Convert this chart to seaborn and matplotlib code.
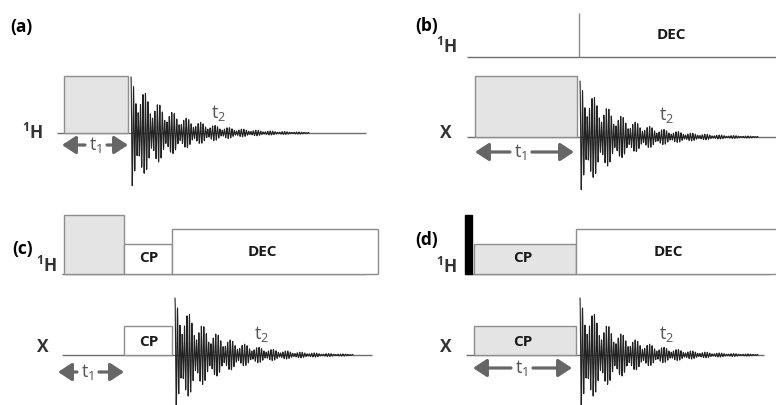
import numpy as np
import matplotlib

matplotlib.use("Agg")

import matplotlib.pyplot as plt
import seaborn as sns

# ============================================================
# DATA
# time axis  : 0 = start of the first pulse of each panel
# level axis : 0 = baseline of the observed (lower) channel
# ============================================================

H1 = r"$\mathbf{^{1}H}$"
XN = r"$\mathbf{X}$"

PANEL_TAGS = ["(a)", "(b)", "(c)", "(d)"]

# channel baselines: (label, level, t_start, t_end)
CHANNELS_A = [(H1, 0, -7, 302)]
CHANNELS_B = [(H1, 80, -8, 305), (XN, 0, -8, 305)]
CHANNELS_C = [(H1, 81, -2, 302), (XN, 0, -2, 308)]
CHANNELS_D = [(H1, 81, -8, 296), (XN, 0, -8, 290)]

# pulse blocks: (level, t_start, t_end, height, fill)
BLOCKS_A = [(0, 0, 64, 57, "grey")]
BLOCKS_B = [(0, 0, 102, 61, "grey")]
BLOCKS_C = [(81, 0, 60, 59, "grey"), (81, 60, 108, 30, "white"),
            (81, 108, 314, 45, "white"), (0, 60, 108, 29, "white")]
BLOCKS_D = [(81, -9, -2, 59, "black"), (81, 0, 102, 30, "grey"),
            (81, 102, 320, 45, "white"), (0, 0, 102, 29, "grey")]

# block texts: (text, t, level)
LABELS_A = []
LABELS_B = [("DEC", 196, 102)]
LABELS_C = [("CP", 85, 97), ("DEC", 198, 103), ("CP", 85, 13)]
LABELS_D = [("CP", 49, 97), ("DEC", 194, 103), ("CP", 49, 13)]

# decoupler switch-on marker in (b): (level, t, height)
MARKERS_B = [(80, 104, 44)]

# FID on the observed channel
FID_START = [67, 105, 111, 106]
FID_AMP   = [56, 56, 57, 57]
FID_LEN   = 178
FID_PERIOD, BEAT_PERIOD, FID_DECAY = 2.4, 14.0, 42.0

# t1 evolution arrows: (tip_left, tip_right), text position, level
T1_SPAN   = [(-2, 64), (0, 99), (-6, 60), (-1, 98)]
T1_TEXT_T = [32, 46, 24, 48]
T1_LEVEL  = [-12, -15, -17, -13]
T2_POS    = [(155, 20), (192, 22), (198, 21), (193, 21)]

# channel-label anchors (right edge t, level) per panel
CH_LABEL_POS = [
    [(-21, 0)],
    [(-18, 90), (-22, 4)],
    [(-7, 89), (-14, 7)],
    [(-17, 88), (-21, 7)],
]
TAG_POS = [(-54, 106), (-60, 111), (-52, 106), (-59, 115)]

# ============================================================
# LAYOUT (figure pixels)
# ============================================================

W, H = 776, 405
PANEL_BOX = [(0, 0, 388, 200), (388, 0, 388, 200),
             (0, 200, 388, 205), (388, 200, 388, 205)]
ORIGIN = [(64, 133), (475, 137), (64, 355), (474, 355)]

FILLS = {"grey": ("#e4e4e4", "#8e8e8e"),
         "white": ("white", "#8e8e8e"),
         "black": ("black", "black")}
LINE_C = "#6e6e6e"
ARROW_C = "#666666"
FONT = "Open Sans"


def fid_trace(start, amp):
    t = np.linspace(0, FID_LEN, 8000)
    osc = np.cos(2 * np.pi * t / FID_PERIOD) \
        + 0.4 * np.cos(2 * np.pi * t * (1 / FID_PERIOD - 1 / BEAT_PERIOD))
    y = amp * np.exp(-t / FID_DECAY) * osc / 1.4
    return start + t, y


def draw_panel(ax, i, channels, blocks, labels, markers=()):
    for (lbl, lev, t0, t1), (lx, ly) in zip(channels, CH_LABEL_POS[i]):
        ax.hlines(lev, t0, t1, color=LINE_C, lw=1.0, zorder=1)
        ax.text(lx, ly, lbl, ha="right", va="center", fontsize=12.5,
                color="#333333")

    for lev, t0, t1, h, fill in blocks:
        fc, ec = FILLS[fill]
        ax.bar(t0, h, width=t1 - t0, bottom=lev, align="edge",
               color=fc, edgecolor=ec, linewidth=1.0, zorder=2)

    for txt, t, lev in labels:
        ax.text(t, lev, txt, ha="center", va="center", fontsize=11,
                fontweight="bold", color="#1a1a1a", zorder=4)

    for lev, t, h in markers:
        ax.vlines(t, lev, lev + h, color="#8e8e8e", lw=1.0)

    tx, ty = fid_trace(FID_START[i], FID_AMP[i])
    sns.lineplot(x=tx, y=ty, ax=ax, color="#222222", lw=0.8,
                 estimator=None, sort=False, zorder=3)

    # t1 arrows
    left, right = T1_SPAN[i]
    tt, lv = T1_TEXT_T[i], T1_LEVEL[i]
    ap = dict(arrowstyle="-|>,head_length=0.55,head_width=0.36",
              color=ARROW_C, lw=2.3, shrinkA=0, shrinkB=0,
              mutation_scale=15)
    ax.annotate("", xy=(left, lv), xytext=(tt - 11, lv), arrowprops=ap)
    ax.annotate("", xy=(right, lv), xytext=(tt + 11, lv), arrowprops=ap)
    ax.text(tt, lv, r"t$_\mathregular{1}$", ha="center", va="center",
            fontsize=13, color="#555555")
    x2, y2 = T2_POS[i]
    ax.text(x2, y2, r"t$_\mathregular{2}$", ha="center", va="center",
            fontsize=13, color="#555555")

    tx0, ty0 = TAG_POS[i]
    ax.text(tx0, ty0, PANEL_TAGS[i], ha="left", va="center", fontsize=12.5,
            fontweight="bold", color="black")


def main():
    sns.set_style("white")
    plt.rcParams["font.family"] = [FONT, "DejaVu Sans"]
    plt.rcParams["mathtext.fontset"] = "custom"
    plt.rcParams["mathtext.rm"] = FONT
    plt.rcParams["mathtext.it"] = FONT + ":italic"
    plt.rcParams["mathtext.bf"] = FONT + ":bold"

    fig = plt.figure(figsize=(W / 100, H / 100), dpi=100)
    fig.patch.set_facecolor("white")

    panels = [
        (CHANNELS_A, BLOCKS_A, LABELS_A, ()),
        (CHANNELS_B, BLOCKS_B, LABELS_B, MARKERS_B),
        (CHANNELS_C, BLOCKS_C, LABELS_C, ()),
        (CHANNELS_D, BLOCKS_D, LABELS_D, ()),
    ]
    for i, (ch, bl, lb, mk) in enumerate(panels):
        left, top, w, h = PANEL_BOX[i]
        x0, y0 = ORIGIN[i]
        ax = fig.add_axes([left / W, 1 - (top + h) / H, w / W, h / H])
        ax.set_xlim(left - x0, left + w - x0)
        ax.set_ylim(y0 - (top + h), y0 - top)
        ax.axis("off")
        draw_panel(ax, i, ch, bl, lb, mk)

    fig.savefig("out.png", dpi=100)
    plt.close(fig)


if __name__ == "__main__":
    main()
